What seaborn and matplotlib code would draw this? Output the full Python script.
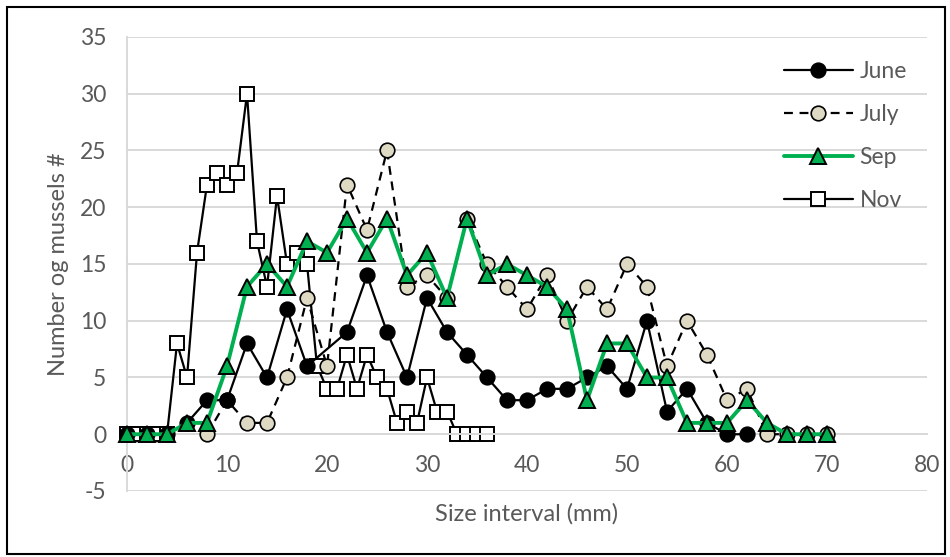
import matplotlib
matplotlib.use("Agg")
import matplotlib.pyplot as plt
from matplotlib.patches import Rectangle
import seaborn as sns
import pandas as pd

# Size intervals (mm) and counts per sampling month
june_x = [0, 2, 4, 6, 8, 10, 12, 14, 16, 18, 22, 24, 26, 28, 30, 32, 34, 36, 38,
          40, 42, 44, 46, 48, 50, 52, 54, 56, 58, 60, 62]
june_y = [0, 0, 0, 1, 3, 3, 8, 5, 11, 6, 9, 14, 9, 5, 12, 9, 7, 5, 3,
          3, 4, 4, 5, 6, 4, 10, 2, 4, 1, 0, 0]

july_x = [8, 10, 12, 14, 16, 18, 20, 22, 24, 26, 28, 30, 32, 34, 36, 38, 40, 42, 44,
          46, 48, 50, 52, 54, 56, 58, 60, 62, 64, 66, 68, 70]
july_y = [0, 3, 1, 1, 5, 12, 6, 22, 18, 25, 13, 14, 12, 19, 15, 13, 11, 14, 10,
          13, 11, 15, 13, 6, 10, 7, 3, 4, 0, 0, 0, 0]

sep_x = [0, 2, 4, 6, 8, 10, 12, 14, 16, 18, 20, 22, 24, 26, 28, 30, 32, 34, 36, 38,
         40, 42, 44, 46, 48, 50, 52, 54, 56, 58, 60, 62, 64, 66, 68, 70]
sep_y = [0, 0, 0, 1, 1, 6, 13, 15, 13, 17, 16, 19, 16, 19, 14, 16, 12, 19, 14, 15,
         14, 13, 11, 3, 8, 8, 5, 5, 1, 1, 1, 3, 1, 0, 0, 0]

nov_x = [0, 1, 2, 3, 4, 5, 6, 7, 8, 9, 10, 11, 12, 13, 14, 15, 16, 17, 18, 19, 20,
         21, 22, 23, 24, 25, 26, 27, 28, 29, 30, 31, 32, 33, 34, 35, 36]
nov_y = [0, 0, 0, 0, 0, 8, 5, 16, 22, 23, 22, 23, 30, 17, 13, 21, 15, 16, 15, 6, 4,
         4, 7, 4, 7, 5, 4, 1, 2, 1, 5, 2, 2, 0, 0, 0, 0]

x_ticks = [0, 10, 20, 30, 40, 50, 60, 70, 80]
y_ticks = [-5, 0, 5, 10, 15, 20, 25, 30, 35]

sns.set_style("white")
plt.rcParams["font.family"] = ["Lato", "DejaVu Sans"]
plt.rcParams["axes.unicode_minus"] = False

text_grey = "#595959"
grid_grey = "#D9D9D9"
green = "#00B050"
fs = 16.5

fig = plt.figure(figsize=(9.5, 5.57), dpi=100)
ax = fig.add_axes([0.1337, 0.1185, 0.8421, 0.8151])

# (label, x, y, stacking order, line/marker style)
series = [
    ("June", june_x, june_y, 4, dict(color="black", lw=1.6, marker="o", ms=10.5,
                                     mfc="black", mec="black", mew=1.2)),
    ("July", july_x, july_y, 3, dict(color="black", lw=1.6, ls=(0, (4, 3)),
                                     marker="o", ms=10.5, mfc="#DDD9C3",
                                     mec="black", mew=1.2)),
    ("Sep", sep_x, sep_y, 5, dict(color=green, lw=2.8, marker="^", ms=11.5,
                                  mfc=green, mec="black", mew=1.4)),
    ("Nov", nov_x, nov_y, 2, dict(color="black", lw=1.6, marker="s", ms=10,
                                  mfc="white", mec="black", mew=1.4)),
]

for name, xs, ys, z, style in series:
    df = pd.DataFrame({"size": xs, "count": ys})
    sns.lineplot(data=df, x="size", y="count", ax=ax, label=name,
                 clip_on=False, zorder=z, **style)

ax.set_xlim(0, 80)
ax.set_ylim(-5, 35)
ax.set_xticks(x_ticks)
ax.set_yticks(y_ticks)
ax.yaxis.grid(True, color=grid_grey, lw=1.4)
ax.set_axisbelow(True)

for side in ("top", "right"):
    ax.spines[side].set_visible(False)
ax.spines["left"].set_color(grid_grey)
ax.spines["left"].set_linewidth(1.4)
ax.spines["bottom"].set_position(("data", 0))
ax.spines["bottom"].set_color(grid_grey)
ax.spines["bottom"].set_linewidth(1.4)

ax.tick_params(axis="x", length=0, pad=15, labelsize=fs, labelcolor=text_grey)
ax.tick_params(axis="y", length=0, pad=15, labelsize=fs, labelcolor=text_grey)

ax.set_xlabel("Size interval (mm)", fontsize=17, color=text_grey)
ax.set_ylabel("Number og mussels #", fontsize=17, color=text_grey)
ax.xaxis.set_label_coords(0.5, -0.026)
ax.yaxis.set_label_coords(-0.072, 0.5)

leg = ax.legend(loc="upper left", bbox_to_anchor=(0.821, 0.947), frameon=False,
                fontsize=fs, handlelength=3.0, labelspacing=0.96,
                borderaxespad=0, borderpad=0, handletextpad=0.3)
for t in leg.get_texts():
    t.set_color(text_grey)

# black frame around the whole figure
fig.patches.append(Rectangle((0.007, 0.006), 0.988, 0.982, transform=fig.transFigure,
                             fill=False, edgecolor="black", lw=1.5))

fig.savefig("out.png", dpi=100)
